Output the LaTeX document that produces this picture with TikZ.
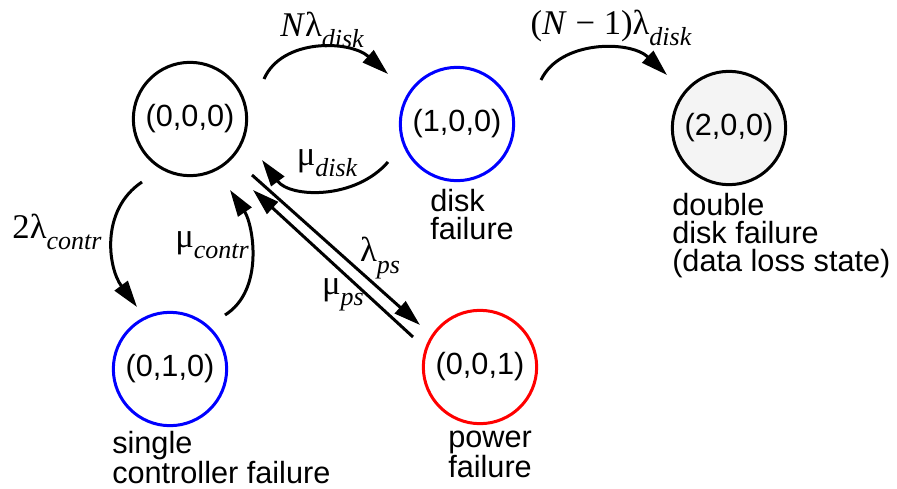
\documentclass[tikz,border=0pt]{standalone}
\usepackage{fontspec}
\setmainfont{Liberation Sans}
\newfontfamily\ratefont{Liberation Serif}
\usetikzlibrary{arrows.meta,calc}
\definecolor{mkvEdge}{HTML}{000000}
\definecolor{mkvDisk}{HTML}{0000FF}
\definecolor{mkvPower}{HTML}{FF0000}
\definecolor{mkvLoss}{HTML}{F4F4F4}
\newcommand{\mkvrate}[2]{{\ratefont\fontsize{26}{28}\selectfont #1\raisebox{-8.5pt}{\fontsize{19.5}{20}\selectfont\itshape #2}}}
\tikzset{
  mkv/.style={circle,draw=mkvEdge,line width=2.25pt,minimum size=85pt,inner sep=0pt,
              font=\fontsize{23}{25}\selectfont},
  mkvdisk/.style={mkv,draw=mkvDisk},
  mkvpower/.style={mkv,draw=mkvPower},
  mkvloss/.style={mkv,fill=mkvLoss},
  mkvflow/.style={-{Triangle[length=20pt,width=12pt]},line width=2.25pt},
  mkvlbl/.style={inner sep=0pt},
  mkvcap/.style={anchor=north west,align=left,inner sep=0pt,
                 font=\fontsize{23}{21}\selectfont},
}
\begin{document}
\begin{tikzpicture}[x=0.75pt,y=-0.75pt]
  \useasboundingbox (0,0) rectangle (897,489);

  \node[mkv] (S000) at (190,119) {(0,0,0)};
  \node[mkvdisk] (S100) at (457,124) {(1,0,0)};
  \node[mkvloss] (S200) at (729,128) {(2,0,0)};
  \node[mkvdisk] (S010) at (170,369) {(0,1,0)};
  \node[mkvpower] (S001) at (480,367) {(0,0,1)};

  \node[mkvcap] (C100) at (430,189) {disk\\failure};
  \node[mkvcap] (C200) at (672,193) {double\\disk failure\\(data loss state)};
  \node[mkvcap] (C010) at (112,431) {single\\controller failure};
  \node[mkvcap] (C001) at (448,431) {power\\failure};

  % disk failures
  \draw[mkvflow] ($(S000)+(74,-40)$) .. controls (282,38) and (350,40) .. ($(S100)+(-69,-50)$);
  \draw[mkvflow] ($(S100)+(-69,38)$) .. controls (355,200) and (290,198) .. ($(S000)+(72,41)$);
  \draw[mkvflow] ($(S100)+(84,-44)$) .. controls (560,40) and (630,40) .. ($(S200)+(-62,-53)$);
  % controller
  \draw[mkvflow] ($(S000)+(-48,63)$) .. controls (100,210) and (108,268) .. ($(S010)+(-33,-62)$);
  \draw[mkvflow] ($(S010)+(55,-54)$) .. controls (265,290) and (253,224) .. ($(S000)+(40,71)$);
  % power supply
  \draw[mkvflow] ($(S000)+(62,56)$) -- ($(S001)+(-60,-42)$);
  \draw[mkvflow] ($(S001)+(-67,-30)$) -- ($(S000)+(63,71)$);

  \node[mkvlbl] (RNd) at (322,30) {\mkvrate{\textit{N}λ}{disk}};
  \node[mkvlbl] (RMd) at (327,163) {\mkvrate{μ}{disk}};
  \node[mkvlbl] (RN1d) at (611,28) {\mkvrate{(\textit{N} − 1)λ}{disk}};
  \node[mkvlbl] (RLc) at (57,232) {\mkvrate{2λ}{contr}};
  \node[mkvlbl] (RMc) at (212,245) {\mkvrate{μ}{contr}};
  \node[mkvlbl] (RLp) at (380,258) {\mkvrate{λ}{ps}};
  \node[mkvlbl] (RMp) at (343,295) {\mkvrate{μ}{ps}};
\end{tikzpicture}
\end{document}
